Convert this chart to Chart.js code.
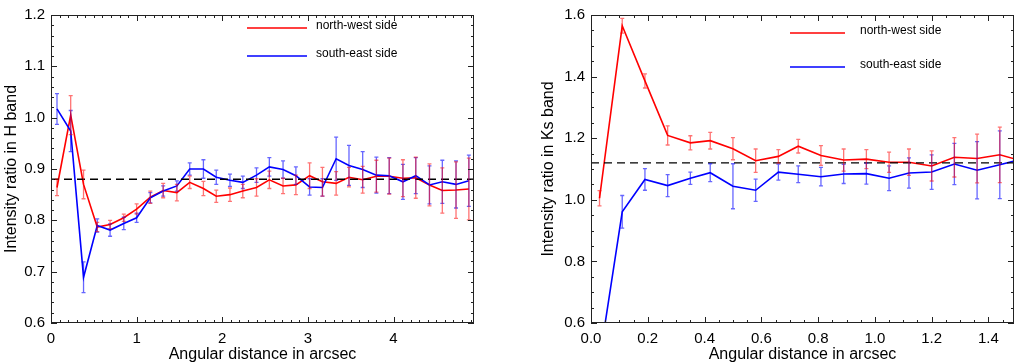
<!DOCTYPE html>
<html>
<head>
<meta charset="utf-8">
<script src="https://cdn.jsdelivr.net/npm/chart.js@4.4.1/dist/chart.umd.min.js"></script>
<style>
  body { margin: 0; background: #fff; }
  #wrap { position: relative; width: 1017px; height: 364px; overflow: hidden; }
  canvas { position: absolute; top: 0; }
  #chartH { left: 0; }
  #chartKs { left: 530px; }
</style>
</head>
<body>
<div id="wrap">
  <canvas id="chartH" width="480" height="364"></canvas>
  <canvas id="chartKs" width="487" height="364"></canvas>
</div>
<script>
// ---- H band panel ----
const hDist = [0.07, 0.23, 0.38, 0.54, 0.69, 0.85, 1.00, 1.16, 1.31, 1.47, 1.62, 1.78, 1.93, 2.09, 2.24, 2.40,
               2.55, 2.71, 2.86, 3.02, 3.17, 3.33, 3.48, 3.64, 3.80, 3.95, 4.11, 4.26, 4.42, 4.57, 4.73, 4.88];
const hNorthWest = [0.864, 1.005, 0.870, 0.787, 0.792, 0.805, 0.822, 0.845, 0.858, 0.854, 0.874, 0.862, 0.847, 0.850, 0.857, 0.864,
                    0.879, 0.867, 0.869, 0.887, 0.875, 0.872, 0.884, 0.879, 0.886, 0.886, 0.882, 0.883, 0.869, 0.858, 0.859, 0.861];
const hNorthWestErr = [0.016, 0.038, 0.028, 0.009, 0.008, 0.007, 0.010, 0.012, 0.014, 0.016, 0.012, 0.014, 0.012, 0.013, 0.013, 0.017,
                       0.017, 0.015, 0.019, 0.025, 0.028, 0.023, 0.019, 0.026, 0.031, 0.035, 0.036, 0.040, 0.041, 0.044, 0.055, 0.060];
const hSouthEast = [1.017, 0.974, 0.689, 0.790, 0.781, 0.794, 0.805, 0.844, 0.857, 0.867, 0.900, 0.900, 0.884, 0.878, 0.874, 0.888,
                    0.904, 0.899, 0.887, 0.865, 0.864, 0.920, 0.907, 0.899, 0.888, 0.887, 0.875, 0.887, 0.869, 0.875, 0.870, 0.877];
const hSouthEastErr = [0.030, 0.040, 0.030, 0.013, 0.012, 0.012, 0.009, 0.010, 0.010, 0.010, 0.012, 0.018, 0.014, 0.012, 0.012, 0.014,
                       0.018, 0.017, 0.017, 0.016, 0.017, 0.042, 0.039, 0.035, 0.035, 0.035, 0.034, 0.035, 0.037, 0.042, 0.046, 0.050];
const hMean = 0.88;
const hXTicks = [0, 1, 2, 3, 4];
const hYTicks = [0.6, 0.7, 0.8, 0.9, 1.0, 1.1, 1.2];

// ---- Ks band panel ----
const ksDist = [0.03, 0.11, 0.19, 0.27, 0.35, 0.42, 0.50, 0.58, 0.66, 0.73, 0.81, 0.89, 0.97, 1.05, 1.12, 1.20, 1.28, 1.36, 1.44, 1.51];
const ksNorthWest = [1.005, 1.565, 1.386, 1.209, 1.185, 1.192, 1.166, 1.127, 1.141, 1.174, 1.144, 1.129, 1.132, 1.122, 1.122, 1.110, 1.138, 1.134, 1.146, 1.128];
const ksNorthWestErr = [0.025, 0.024, 0.023, 0.031, 0.023, 0.027, 0.036, 0.038, 0.022, 0.022, 0.032, 0.036, 0.031, 0.033, 0.043, 0.049, 0.064, 0.079, 0.090, 0.090];
const ksSouthEast = [0.48, 0.961, 1.066, 1.046, 1.070, 1.088, 1.044, 1.031, 1.090, 1.083, 1.075, 1.084, 1.085, 1.070, 1.087, 1.090, 1.116, 1.096, 1.114, 1.130];
const ksSouthEastErr = [0.050, 0.053, 0.035, 0.036, 0.020, 0.029, 0.073, 0.036, 0.026, 0.027, 0.030, 0.031, 0.034, 0.040, 0.049, 0.056, 0.067, 0.093, 0.110, 0.110];
const ksMean = 1.12;
const ksXTicks = [0.0, 0.2, 0.4, 0.6, 0.8, 1.0, 1.2, 1.4];
const ksYTicks = [0.6, 0.8, 1.0, 1.2, 1.4, 1.6];

const seriesNames = ["north-west side", "south-east side"];
const RED = "#ff0000";
const BLUE = "#0000ff";
const FONT = "'Liberation Sans', Arial, Helvetica, sans-serif";

Chart.defaults.font.family = FONT;
Chart.defaults.color = "#000";

// error bars, drawn from each dataset's "errors" array through the scales
const errorBars = {
    id: "errorBars",
    afterDatasetsDraw(chart) {
        const { ctx, chartArea, scales } = chart;
        ctx.save();
        ctx.beginPath();
        ctx.rect(chartArea.left, chartArea.top, chartArea.right - chartArea.left, chartArea.bottom - chartArea.top);
        ctx.clip();
        chart.data.datasets.forEach(ds => {
            if (!ds.errors) return;
            ctx.strokeStyle = ds.errorColor;
            ctx.lineWidth = 1.3;
            ds.data.forEach((p, i) => {
                const x = scales.x.getPixelForValue(p.x);
                const y1 = scales.y.getPixelForValue(p.y + ds.errors[i]);
                const y2 = scales.y.getPixelForValue(p.y - ds.errors[i]);
                ctx.beginPath();
                ctx.moveTo(x, y1); ctx.lineTo(x, y2);
                ctx.moveTo(x - 2, y1); ctx.lineTo(x + 2, y1);
                ctx.moveTo(x - 2, y2); ctx.lineTo(x + 2, y2);
                ctx.stroke();
            });
        });
        ctx.restore();
    }
};

// IDL-like box with inward ticks on all four sides
const boxFrame = {
    id: "boxFrame",
    afterDraw(chart, args, opts) {
        const { ctx, chartArea: a, scales } = chart;
        ctx.save();
        ctx.strokeStyle = "#222";
        ctx.lineWidth = 1;
        ctx.strokeRect(a.left + 0.5, a.top + 0.5, a.right - a.left - 1, a.bottom - a.top - 1);
        ctx.beginPath();
        const xs = scales.x, ys = scales.y;
        const mark = (v, len, horiz) => {
            if (horiz) {
                const x = Math.round(xs.getPixelForValue(v)) + 0.5;
                ctx.moveTo(x, a.bottom); ctx.lineTo(x, a.bottom - len);
                ctx.moveTo(x, a.top); ctx.lineTo(x, a.top + len);
            } else {
                const y = Math.round(ys.getPixelForValue(v)) + 0.5;
                ctx.moveTo(a.left, y); ctx.lineTo(a.left + len, y);
                ctx.moveTo(a.right, y); ctx.lineTo(a.right - len, y);
            }
        };
        for (let v = xs.min; v <= xs.max + 1e-9; v += opts.xMinor) mark(v, 3, true);
        for (let v = ys.min; v <= ys.max + 1e-9; v += opts.yMinor) mark(v, 3, false);
        xs.ticks.forEach(t => mark(t.value, 6, true));
        ys.ticks.forEach(t => mark(t.value, 6, false));
        ctx.stroke();
        ctx.restore();
    }
};

// small legend inside the plot: a line sample then the label
const lineLegend = {
    id: "lineLegend",
    afterDraw(chart, args, opts) {
        const ctx = chart.ctx;
        ctx.save();
        ctx.font = "12px " + FONT;
        ctx.textBaseline = "middle";
        opts.items.forEach((item, i) => {
            const y = opts.ys[i];
            ctx.strokeStyle = item.color;
            ctx.lineWidth = 1.5;
            ctx.beginPath();
            ctx.moveTo(opts.x1, y); ctx.lineTo(opts.x2, y);
            ctx.stroke();
            ctx.fillStyle = "#000";
            ctx.fillText(item.label, opts.textX, y - 2);
        });
        ctx.restore();
    }
};

function points(xs, ys) {
    return xs.map((x, i) => ({ x: x, y: ys[i] }));
}

function makePanel(canvasId, cfg) {
    return new Chart(document.getElementById(canvasId).getContext("2d"), {
        type: "line",
        data: {
            datasets: [
                {
                    label: "mean",
                    data: [{ x: cfg.xMin, y: cfg.mean }, { x: cfg.xMax, y: cfg.mean }],
                    borderColor: "#000",
                    borderWidth: 1.3,
                    borderDash: [8, 5],
                    pointRadius: 0,
                    order: 0
                },
                {
                    label: seriesNames[1],
                    data: points(cfg.dist, cfg.se),
                    errors: cfg.seErr,
                    errorColor: "rgba(0,0,255,0.6)",
                    borderColor: BLUE,
                    borderWidth: 1.6,
                    pointRadius: 0,
                    order: 1
                },
                {
                    label: seriesNames[0],
                    data: points(cfg.dist, cfg.nw),
                    errors: cfg.nwErr,
                    errorColor: "rgba(255,0,0,0.55)",
                    borderColor: RED,
                    borderWidth: 1.6,
                    pointRadius: 0,
                    order: 2
                }
            ]
        },
        options: {
            responsive: false,
            animation: false,
            layout: { padding: cfg.padding },
            scales: {
                x: {
                    type: "linear",
                    min: cfg.xMin,
                    max: cfg.xMax,
                    afterBuildTicks: s => { s.ticks = cfg.xTicks.map(v => ({ value: v })); },
                    afterFit: s => { s.height = 41; },
                    grid: { display: false, drawTicks: false },
                    border: { display: false },
                    ticks: {
                        autoSkip: false, maxRotation: 0, padding: 7,
                        font: { size: 15 },
                        callback: v => v.toFixed(cfg.xDigits)
                    },
                    title: {
                        display: true, text: "Angular distance in arcsec",
                        font: { size: 16 }, padding: { top: 0, bottom: 0 }
                    }
                },
                y: {
                    min: cfg.yMin,
                    max: cfg.yMax,
                    afterBuildTicks: s => { s.ticks = cfg.yTicks.map(v => ({ value: v })); },
                    afterFit: s => { s.width = cfg.yAxisWidth; },
                    grid: { display: false, drawTicks: false },
                    border: { display: false },
                    ticks: {
                        padding: 6,
                        font: { size: 15 },
                        callback: v => v.toFixed(1)
                    },
                    title: {
                        display: true, text: cfg.yTitle,
                        font: { size: 16 }, padding: cfg.yTitlePad
                    }
                }
            },
            plugins: {
                legend: { display: false },
                tooltip: { enabled: false },
                boxFrame: { xMinor: cfg.xMinor, yMinor: cfg.yMinor },
                lineLegend: {
                    x1: cfg.legend.x1, x2: cfg.legend.x2, textX: cfg.legend.textX, ys: cfg.legend.ys,
                    items: [{ label: seriesNames[0], color: RED }, { label: seriesNames[1], color: BLUE }]
                }
            }
        },
        plugins: [errorBars, boxFrame, lineLegend]
    });
}

makePanel("chartH", {
    dist: hDist, nw: hNorthWest, nwErr: hNorthWestErr, se: hSouthEast, seErr: hSouthEastErr,
    mean: hMean, xMin: 0, xMax: 4.94, yMin: 0.6, yMax: 1.2,
    xTicks: hXTicks, yTicks: hYTicks, xDigits: 0, xMinor: 0.1, yMinor: 0.02,
    yTitle: "Intensity ratio in H band", yAxisWidth: 51, yTitlePad: { top: 2, bottom: 0 },
    padding: { top: 3, right: 6, left: 0, bottom: 0 },
    legend: { x1: 247, x2: 307, textX: 316, ys: [28, 56] }
});

makePanel("chartKs", {
    dist: ksDist, nw: ksNorthWest, nwErr: ksNorthWestErr, se: ksSouthEast, seErr: ksSouthEastErr,
    mean: ksMean, xMin: 0, xMax: 1.49, yMin: 0.6, yMax: 1.6,
    xTicks: ksXTicks, yTicks: ksYTicks, xDigits: 1, xMinor: 0.05, yMinor: 0.05,
    yTitle: "Intensity ratio in Ks band", yAxisWidth: 61, yTitlePad: { top: 9, bottom: 0 },
    padding: { top: 2, right: 3, left: 0, bottom: 0 },
    legend: { x1: 260, x2: 315, textX: 330, ys: [33, 67] }
});
</script>
</body>
</html>
